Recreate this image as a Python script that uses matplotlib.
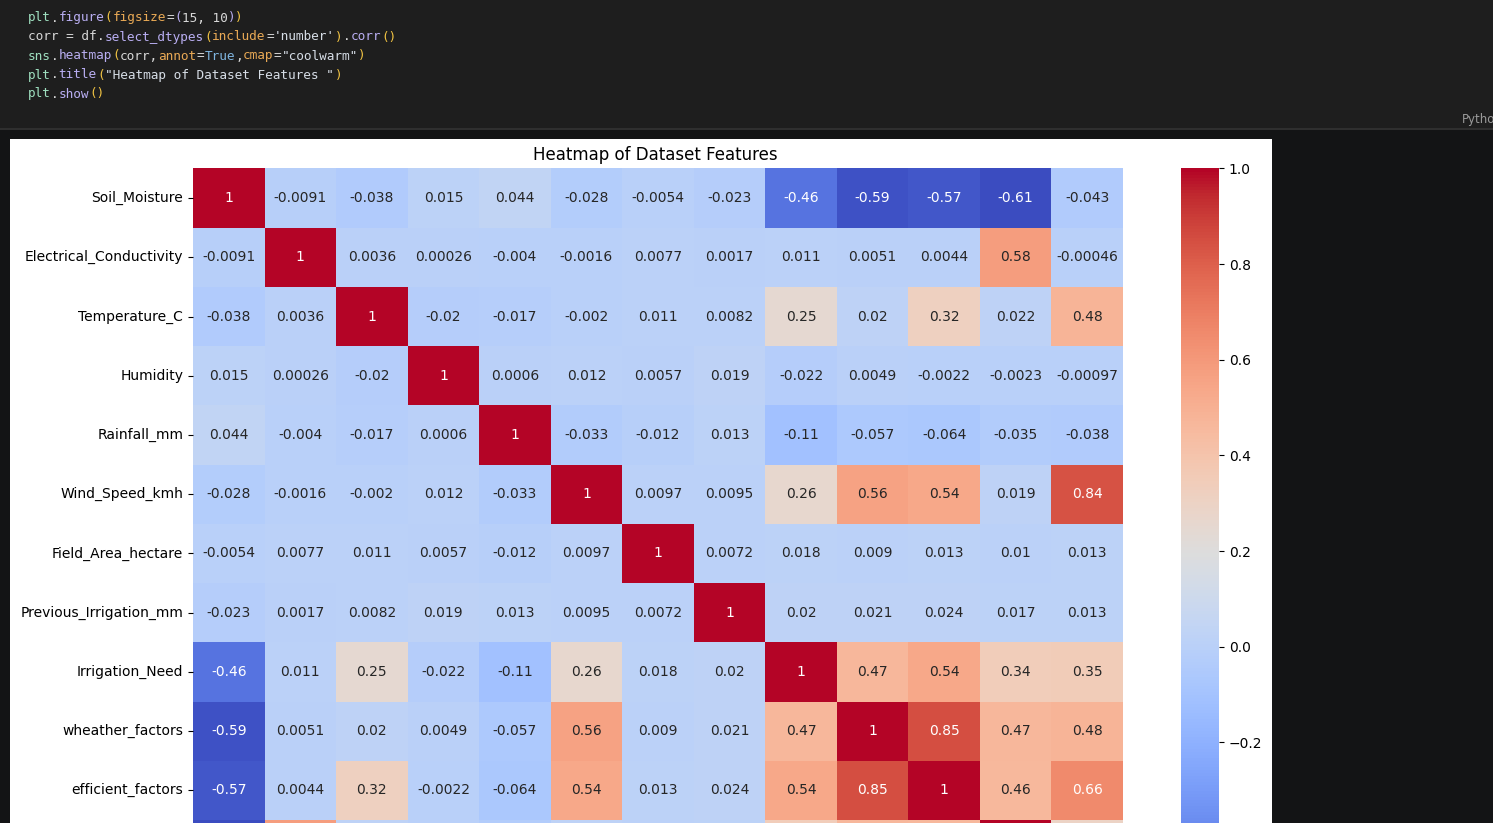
import matplotlib
matplotlib.use("Agg")
import matplotlib.pyplot as plt
from matplotlib.patches import Rectangle
import numpy as np
import pandas as pd
import seaborn as sns

# feature names (last two are cut off in the screenshot, guessed)
features = ["Soil_Moisture", "Electrical_Conductivity", "Temperature_C", "Humidity",
            "Rainfall_mm", "Wind_Speed_kmh", "Field_Area_hectare", "Previous_Irrigation_mm",
            "Irrigation_Need", "wheather_factors", "efficient_factors",
            "soil_factors", "total_factors"]

row_soil = [1, -0.0091, -0.038, 0.015, 0.044, -0.028, -0.0054, -0.023, -0.46, -0.59, -0.57, -0.61, -0.043]
row_ec = [-0.0091, 1, 0.0036, 0.00026, -0.004, -0.0016, 0.0077, 0.0017, 0.011, 0.0051, 0.0044, 0.58, -0.00046]
row_temp = [-0.038, 0.0036, 1, -0.02, -0.017, -0.002, 0.011, 0.0082, 0.25, 0.02, 0.32, 0.022, 0.48]
row_hum = [0.015, 0.00026, -0.02, 1, 0.0006, 0.012, 0.0057, 0.019, -0.022, 0.0049, -0.0022, -0.0023, -0.00097]
row_rain = [0.044, -0.004, -0.017, 0.0006, 1, -0.033, -0.012, 0.013, -0.11, -0.057, -0.064, -0.035, -0.038]
row_wind = [-0.028, -0.0016, -0.002, 0.012, -0.033, 1, 0.0097, 0.0095, 0.26, 0.56, 0.54, 0.019, 0.84]
row_field = [-0.0054, 0.0077, 0.011, 0.0057, -0.012, 0.0097, 1, 0.0072, 0.018, 0.009, 0.013, 0.01, 0.013]
row_prev = [-0.023, 0.0017, 0.0082, 0.019, 0.013, 0.0095, 0.0072, 1, 0.02, 0.021, 0.024, 0.017, 0.013]
row_need = [-0.46, 0.011, 0.25, -0.022, -0.11, 0.26, 0.018, 0.02, 1, 0.47, 0.54, 0.34, 0.35]
row_weather = [-0.59, 0.0051, 0.02, 0.0049, -0.057, 0.56, 0.009, 0.021, 0.47, 1, 0.85, 0.47, 0.48]
row_eff = [-0.57, 0.0044, 0.32, -0.0022, -0.064, 0.54, 0.013, 0.024, 0.54, 0.85, 1, 0.46, 0.66]
row_soilf = [-0.61, 0.58, 0.022, -0.0023, -0.035, 0.019, 0.01, 0.017, 0.34, 0.47, 0.46, 1, 0.3]
row_total = [-0.043, -0.00046, 0.48, -0.00097, -0.038, 0.84, 0.013, 0.013, 0.35, 0.48, 0.66, 0.3, 1]

corr = pd.DataFrame([row_soil, row_ec, row_temp, row_hum, row_rain, row_wind, row_field,
                     row_prev, row_need, row_weather, row_eff, row_soilf, row_total],
                    index=features, columns=features)

# notebook cell code, as (text, colour) tokens per line
C_MOD = "#9fe0c0"
C_FN = "#b9aef2"
C_PAR = "#f2c443"
C_KW = "#e9a955"
C_TXT = "#d8d8d8"
C_STR = "#d6dde6"
C_TRUE = "#7fb5e0"
code_lines = [
    [("plt", C_MOD), (".", C_TXT), ("figure", C_FN), ("(", C_PAR), ("figsize", C_KW), ("=", C_TXT),
     ("(", C_FN), ("15, 10", C_TXT), (")", C_FN), (")", C_PAR)],
    [("corr = df", C_TXT), (".", C_TXT), ("select_dtypes", C_FN), ("(", C_PAR), ("include", C_KW),
     ("=", C_TXT), ("'number'", C_STR), (")", C_PAR), (".", C_TXT), ("corr", C_FN), ("()", C_PAR)],
    [("sns", C_MOD), (".", C_TXT), ("heatmap", C_FN), ("(", C_PAR), ("corr,", C_TXT), ("annot", C_KW),
     ("=", C_TXT), ("True", C_TRUE), (",", C_TXT), ("cmap", C_KW), ("=", C_TXT), ('"coolwarm"', C_STR),
     (")", C_PAR)],
    [("plt", C_MOD), (".", C_TXT), ("title", C_FN), ("(", C_PAR), ('"Heatmap of Dataset Features "', C_STR),
     (")", C_PAR)],
    [("plt", C_MOD), (".", C_TXT), ("show", C_FN), ("()", C_PAR)],
]

W, H = 1493, 823
fig = plt.figure(figsize=(W / 100, H / 100), dpi=100)
fig.patch.set_facecolor("#131415")


def fx(x):
    return x / W


def fy(y):
    return 1 - y / H


# code cell background and separator
fig.add_artist(Rectangle((0, fy(128)), 1, 128 / H, transform=fig.transFigure,
                         facecolor="#1e1e1e", edgecolor="none", zorder=0))
fig.add_artist(Rectangle((0, fy(130)), 1, 2 / H, transform=fig.transFigure,
                         facecolor="#2f2f2f", edgecolor="none", zorder=0))

char_w = 7.68
for i, line in enumerate(code_lines):
    col = 0
    for txt, colr in line:
        fig.text(fx(28 + col * char_w), fy(18 + 19 * i), txt, color=colr,
                 family="DejaVu Sans Mono", fontsize=9.15, va="center", ha="left")
        col += len(txt)

fig.text(fx(1462), fy(120), "Python", color="#9a9a9a", fontsize=8.5, va="center", ha="left")

# white output panel
fig.add_artist(Rectangle((fx(10), 0), fx(1272) - fx(10), fy(139), transform=fig.transFigure,
                         facecolor="white", edgecolor="none", zorder=0))

plt.rcParams["font.size"] = 10

top, bot = 168.5, 938.5
ax = fig.add_axes([fx(193), fy(bot), fx(1123) - fx(193), (bot - top) / H])
cax = fig.add_axes([fx(1181), fy(bot), fx(1219) - fx(1181), (bot - top) / H])

sns.heatmap(corr, annot=True, cmap="coolwarm", ax=ax, cbar_ax=cax,
            annot_kws={"fontsize": 10})
ax.set_title("Heatmap of Dataset Features ", fontsize=12, pad=6)
ax.tick_params(labelsize=10)
cax.tick_params(labelsize=10)

fig.savefig("out.png", dpi=100, facecolor=fig.get_facecolor())
